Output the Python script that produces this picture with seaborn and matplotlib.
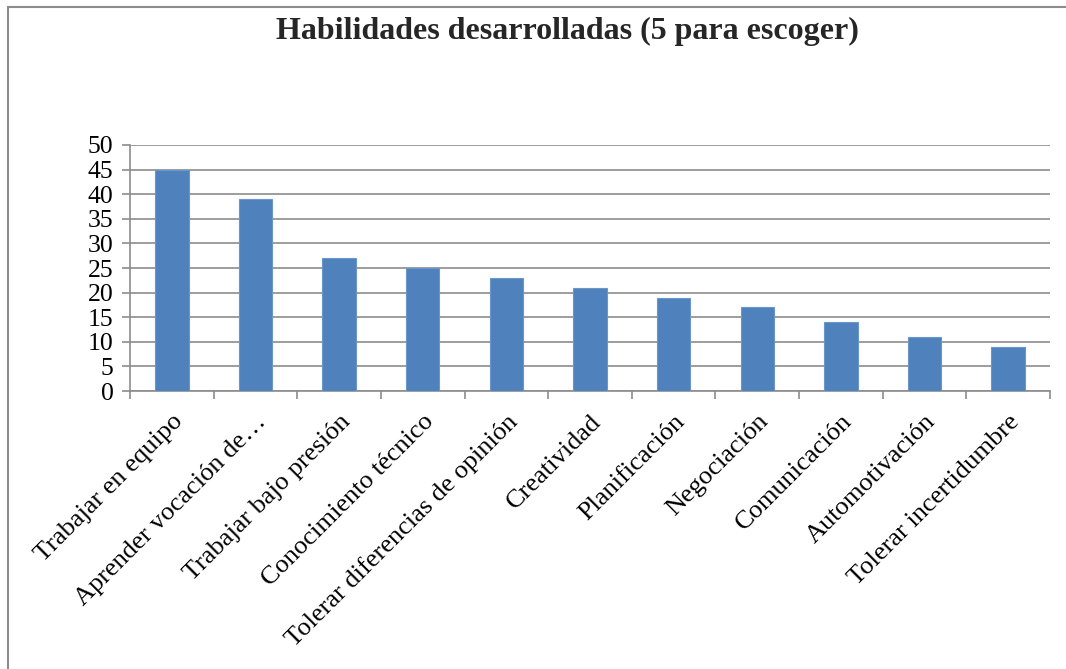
import matplotlib
matplotlib.use("Agg")
import matplotlib.pyplot as plt
import seaborn as sns
import pandas as pd
import numpy as np

categories = ["Trabajar en equipo", "Aprender vocación de…", "Trabajar bajo presión",
              "Conocimiento técnico", "Tolerar diferencias de opinión", "Creatividad",
              "Planificación", "Negociación", "Comunicación", "Automotivación",
              "Tolerar incertidumbre"]
values = [45, 39, 27, 25, 23, 21, 19, 17, 14, 11, 9]
title = "Habilidades desarrolladas (5 para escoger)"

sns.set_theme(style="white")
plt.rcParams['font.family'] = ['Liberation Serif', 'DejaVu Serif']

df = pd.DataFrame({"cat": categories, "val": values})

fig = plt.figure(figsize=(10.66, 6.69), dpi=100)
ax = fig.add_axes([0.122, 0.4155, 0.863, 0.3678])
sns.barplot(data=df, x="cat", y="val", color="#4F81BD", width=0.4, ax=ax,
            saturation=1, edgecolor="#6A96C8", linewidth=0.8, zorder=3)

ax.set_ylim(0, 50)
ax.set_xlim(-0.5, len(categories) - 0.5)
ax.set_yticks(range(0, 51, 5))
ax.yaxis.grid(True, color="#8C8C8C", linewidth=1.2, zorder=0)
ax.set_axisbelow(True)
for s in ["top", "right"]:
    ax.spines[s].set_visible(False)
for s in ["left", "bottom"]:
    ax.spines[s].set_color("#8C8C8C")
    ax.spines[s].set_linewidth(1.2)

ax.set_xlabel("")
ax.set_ylabel("")
ax.tick_params(axis="y", labelsize=18.5, length=6, width=1.2, color="#8C8C8C",
               left=True, pad=6, labelcolor="black")
ax.set_xticks(range(len(categories)))
ax.set_xticklabels(categories, rotation=45, ha="right", rotation_mode="anchor",
                   fontsize=19, color="black")
ax.tick_params(axis="x", length=0, pad=14)
# minor ticks at category boundaries
ax.set_xticks(np.arange(-0.5, len(categories), 1), minor=True)
ax.tick_params(axis="x", which="minor", length=6, width=1.2, color="#8C8C8C", bottom=True)

fig.text(0.532, 0.953, title, ha="center", va="center", fontsize=23, fontweight="bold")

# frame lines (left and top)
fig.add_artist(plt.Line2D([8/1066, 8/1066], [0, 1 - 7/669], color="#8C8C8C", linewidth=1.5,
                          transform=fig.transFigure))
fig.add_artist(plt.Line2D([8/1066, 1], [1 - 7/669, 1 - 7/669], color="#8C8C8C", linewidth=1.5,
                          transform=fig.transFigure))

fig.savefig("out.png", dpi=100)
